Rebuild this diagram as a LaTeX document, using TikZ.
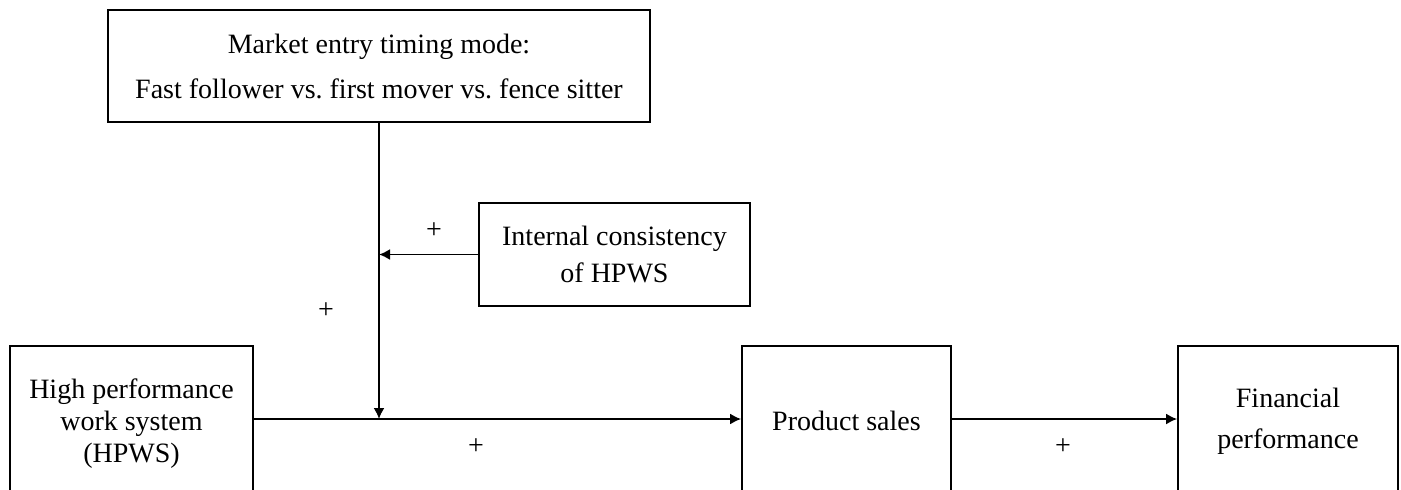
\documentclass[tikz,border=0pt]{standalone}
\usepackage{fontspec}
\setmainfont{Liberation Serif}
\usetikzlibrary{arrows.meta}

\begin{document}
\begin{tikzpicture}[x=0.5pt,y=-0.5pt,
  box/.style={draw,line width=0.9pt,align=center,inner sep=0pt,font=\fontsize{14}{16}\selectfont},
  link/.style={line width=0.9pt,-{Latex[length=5.5pt,width=5.5pt]}},
  sign/.style={font=\fontsize{14}{16}\selectfont}]
\clip (0,0) rectangle (1401,489);
% moderators
\node[box,minimum width=271pt,minimum height=56pt] (timing) at (379,66) {Market entry timing mode:\\[6.5pt] Fast follower vs.\ first mover vs.\ fence sitter};
\node[box,minimum width=135.5pt,minimum height=51.5pt] (internal) at (614.5,254.5) {Internal consistency\\[2.5pt] of HPWS};
% main path, the boxes run past the lower edge
\node[box,minimum width=121.5pt,minimum height=78pt] (hpws) at (131.5,424) {High performance\\ work system\\ (HPWS)};
\node[box,minimum width=104.5pt,minimum height=75pt] (sales) at (846.5,421) {Product sales};
\node[box,minimum width=110pt,minimum height=75pt] (finance) at (1288,421) {Financial\\[4.5pt] performance};
\coordinate (joint) at (379,419);
\coordinate (bend) at (379,254.5);
\draw[link] (hpws.east |- joint) -- (sales.west |- joint);
\draw[link] (sales.east |- joint) -- (finance.west |- joint);
\draw[link] (timing.south -| joint) -- (joint);
\draw[link] (internal.west) -- (bend);
\node[sign] (plus1) at (434,231) {+};
\node[sign] (plus2) at (326,311) {+};
\node[sign] (plus3) at (476,447) {+};
\node[sign] (plus4) at (1063,447) {+};
\end{tikzpicture}
\end{document}
